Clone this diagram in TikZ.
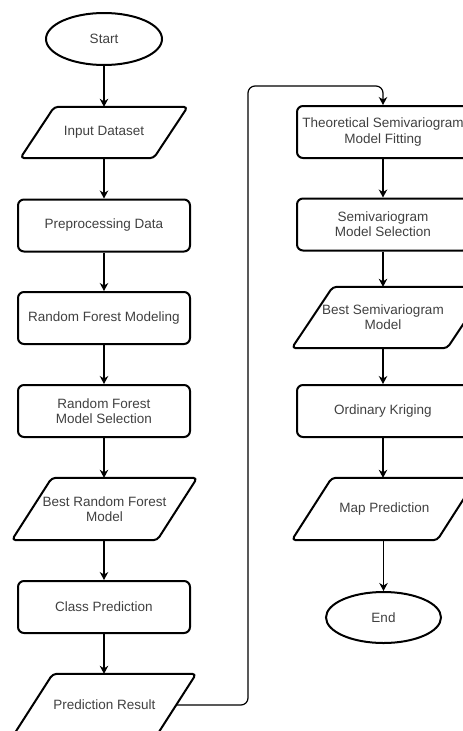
\documentclass[tikz,border=0pt]{standalone}
\usepackage{fontspec}
\setmainfont{Liberation Sans}
\usetikzlibrary{shapes.geometric,arrows.meta}
\newcommand\ioshape[3]{%
  \draw[ioline] ([xshift=#2]#1.south west) -- ([xshift=#2]#1.south east)
    -- ([xshift=#3]#1.north east) -- ([xshift=#3]#1.north west) -- cycle;}
\begin{document}
\begin{tikzpicture}[x=1pt,y=-1pt,
  every node/.style={font=\fontsize{13.5}{15.3}\selectfont, text=black!75, align=center, inner sep=0pt},
  proc/.style={draw=black, line width=2pt, rounded corners=6pt, minimum width=172pt, minimum height=52pt},
  term/.style={draw=black, line width=2pt, ellipse, minimum width=116pt, minimum height=52pt},
  io/.style={minimum width=#1, minimum height=62pt},
  ioline/.style={draw=black, line width=2pt, rounded corners=4pt, line join=round},
  link/.style={draw=black, line width=1.2pt, -{Stealth[width=8.5pt,length=8pt,inset=2.5pt]}}
]
\useasboundingbox (0,0) rectangle (463,731);

% left column
\node[term] (start) at (104,39) {Start};
\node[io=133pt, minimum height=51pt] (in) at (104,132.5) {Input Dataset};
\node[proc] (pre) at (104,225.5) {Preprocessing Data};
\node[proc] (rfm) at (104,318) {Random Forest Modeling};
\node[proc] (rfs) at (104,411) {Random Forest\\Model Selection};
\node[io=145pt] (brf) at (104.5,509) {Best Random Forest\\Model};
\node[proc] (cp) at (104,607) {Class Prediction};
\node[io=143pt] (pr) at (104.5,705) {Prediction Result};

% right column
\node[proc] (tsm) at (383,132) {Theoretical Semivariogram\\Model Fitting};
\node[proc] (sms) at (383,224.5) {Semivariogram\\Model Selection};
\node[io=155pt, minimum height=61pt] (bsm) at (383,317.5) {Best Semivariogram\\Model};
\node[proc] (ok) at (383,411) {Ordinary Kriging};
\node[io=145pt] (mp) at (384.5,509) {Map Prediction};
\node[term, minimum width=115pt, minimum height=51pt] (end) at (383.5,617.5) {End};

% parallelogram outlines
\ioshape{in}{-17pt}{17pt}
\ioshape{brf}{-20pt}{20pt}
\ioshape{pr}{-20pt}{20pt}
\ioshape{bsm}{-13.5pt}{27.5pt}
\ioshape{mp}{-20pt}{20pt}

% connectors
\draw[link] (start.south) -- (start.south |- in.north);
\draw[link] (in.south) -- (in.south |- pre.north);
\draw[link] (pre) -- (rfm);
\draw[link] (rfm) -- (rfs);
\draw[link] (rfs.south) -- (rfs.south |- brf.north);
\draw[link] (brf.south -| cp.north) -- (cp.north);
\draw[link] (cp.south) -- (cp.south |- pr.north);

\coordinate (loop) at (248,86);
\draw[link, rounded corners=7pt] (pr.east) -| (loop) -| (tsm.north);

\draw[link] (tsm) -- (sms);
\draw[link] (sms.south) -- (sms.south |- bsm.north);
\draw[link] (bsm.south) -- (bsm.south |- ok.north);
\draw[link] (ok.south) -- (ok.south |- mp.north);
\draw[link] (mp.south -| end.north) -- (end.north);
\end{tikzpicture}
\end{document}
